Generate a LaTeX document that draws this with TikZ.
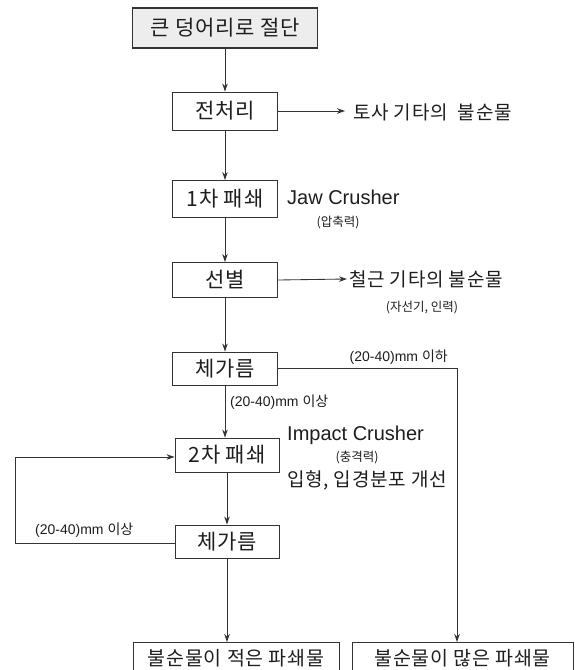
\documentclass[tikz,border=0pt]{standalone}
\usepackage{fontspec}
\setmainfont{Liberation Sans}
\newfontfamily\kr{Noto Sans CJK KR}
\newfontfamily\krw[LetterSpace=4]{Noto Sans CJK KR}
\usetikzlibrary{arrows.meta}
\definecolor{ln}{HTML}{333333}
\definecolor{tx}{HTML}{1E1E1E}
\tikzset{
  box/.style={draw=ln, line width=0.9pt, minimum width=105pt, minimum height=35pt, inner sep=0pt, text=tx, font=\krw\fontsize{21}{23}\selectfont},
  topbox/.style={box, fill=black!7, line width=1.1pt, minimum width=185pt, minimum height=40pt},
  side/.style={anchor=west, inner sep=0pt, text=tx, font=\krw\fontsize{19}{21}\selectfont},
  latin/.style={anchor=west, inner sep=0pt, text=tx, font=\fontsize{20}{22}\selectfont},
  small/.style={inner sep=0pt, text=tx, font=\kr\fontsize{12.5}{14}\selectfont},
  mm/.style={inner sep=0pt, text=tx, font=\fontsize{14}{16}\selectfont},
  arr/.style={draw=ln, line width=0.85pt, -{Stealth[length=8pt,width=5.5pt]}},
  endbox/.style={box, minimum height=32pt, anchor=north, font=\krw\fontsize{19.5}{21}\selectfont},
}
\begin{document}
\begin{tikzpicture}[x=1pt,y=-1pt]
\clip (0,0) rectangle (574,670);
\fill[white] (0,0) rectangle (574,670);
% boxes
\node[topbox] (top) at (225,28) {큰 덩어리로 절단};
\node[box, minimum height=38pt] (pre) at (225,111) {전처리};
\node[box, minimum height=37pt] (c1) at (225,199) {1차 패쇄};
\node[box] (sel) at (225,280) {선별};
\node[box, minimum height=33pt] (s1) at (225,368.5) {체가름};
\node[box, minimum width=104pt, minimum height=34pt] (c2) at (227,455) {2차 패쇄};
\node[box, minimum width=104pt, minimum height=33pt] (s2) at (227,541.5) {체가름};
\node[endbox, minimum width=206pt] (b1) at (236,642) {\raisebox{2pt}{불순물이 적은 파쇄물}};
\node[endbox, minimum width=221pt] (b2) at (462.5,642) {\raisebox{2pt}{불순물이 많은 파쇄물}};
% side texts
\node[side] (t1) at (353,112) {토사 기타의 \ 불순물};
\coordinate (t1a) at (345,111);
\node[latin] (jaw) at (287,197) {Jaw Crusher};
\node[small] (jawf) at (338,223) {(압축력)};
\node[side] (t2) at (349,279) {철근 기타의 불순물};
\coordinate (t2a) at (347,279);
\node[small] (t2f) at (422,308) {(자선기, 인력)};
\node[mm, anchor=east] (le) at (448,357) {(20-40)mm {\kr 이하}};
\node[mm, anchor=west] (ge1) at (230,402) {(20-40)mm {\kr 이상}};
\node[latin] (imp) at (287,435) {Impact Crusher};
\node[small] (impf) at (357,458) {(충격력)};
\node[side] (imp2) at (287,480) {입형, 입경분포 개선};
\node[mm, anchor=west] (ge2) at (35,530) {(20-40)mm {\kr 이상}};
% connectors
\draw[arr] (top.south) -- (pre.north);
\draw[arr] (pre.east) -- (t1a);
\draw[arr] (pre.south) -- (c1.north);
\draw[arr] (c1.south) -- (sel.north);
\draw[arr] (sel.east) -- (t2a);
\draw[arr] (sel.south) -- (s1.north);
\draw[arr] (s1.south) -- (s1.south |- c2.north);
\draw[arr] (c2.south) -- (s2.north);
\draw[arr] (s2.south) -- (s2.south |- b1.north);
\coordinate (rc) at (457,368.5);
\draw[arr] (s1.east) -- (rc) -- (rc |- b2.north);
\coordinate (fb1) at (15,543);
\coordinate (fb2) at (15,457);
\draw[arr] (s2.west |- fb1) -- (fb1) -- (fb2) -- (c2.west |- fb2);
\end{tikzpicture}
\end{document}
